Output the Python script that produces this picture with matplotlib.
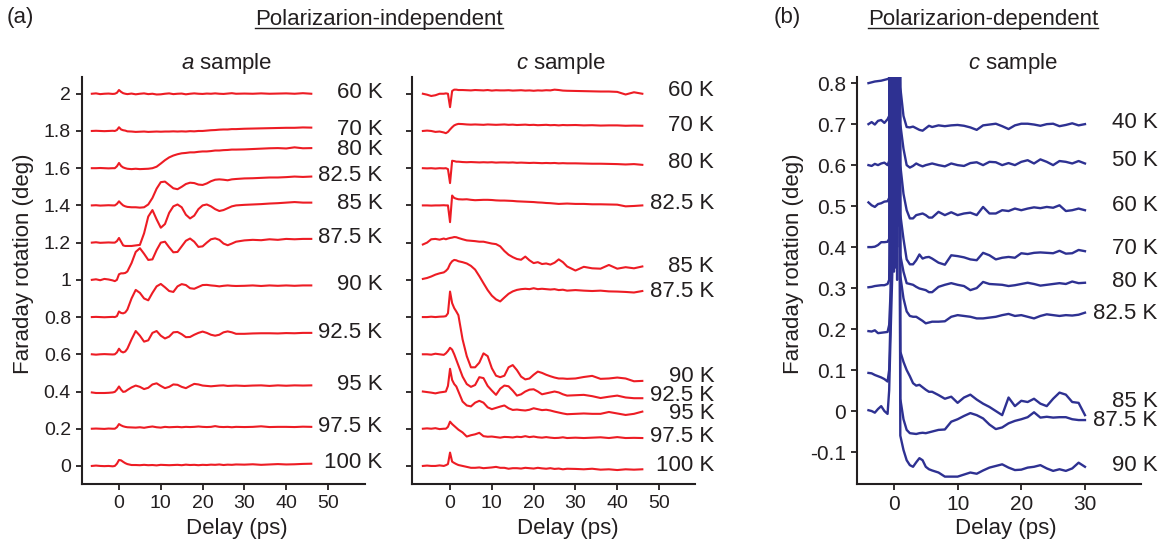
import numpy as np
import matplotlib
matplotlib.use("Agg")
import matplotlib.pyplot as plt
from matplotlib.lines import Line2D
from matplotlib.ticker import FuncFormatter

plt.rcParams['font.family'] = ['Liberation Sans', 'DejaVu Sans']
plt.rcParams['mathtext.fontset'] = 'custom'
plt.rcParams['mathtext.rm'] = 'Liberation Sans'
plt.rcParams['mathtext.it'] = 'Liberation Sans:italic'

# ---- data (a): delay grid in ps, traces as deviation from their baseline (deg)
delay_a = [-6.5, -5.5, -4.5, -3.5, -2.5, -1.5, -1, -0.5,
           0, 0.5, 1, 1.5, 2,
           3, 4, 5, 6, 7, 8, 9, 10, 11, 12,
           13, 14, 15, 16, 17, 18, 19, 20, 21, 22,
           23, 24, 25, 26, 27, 28,
           30, 32, 34, 36, 38, 40, 42, 44, 46]

temps_a = ["60 K", "70 K", "80 K", "82.5 K", "85 K", "87.5 K",
           "90 K", "92.5 K", "95 K", "97.5 K", "100 K"]
offsets_a = [2.0, 1.8, 1.6, 1.4, 1.2, 1.0, 0.8, 0.6, 0.4, 0.2, 0.0]

# a sample
a_60 = [0.000, 0.002, -0.002, 0.000, 0.001, -0.001, 0.000, 0.005,
        0.020, 0.010, 0.003, 0.000, -0.002,
        0.001, -0.003, 0.000, 0.002, -0.002, 0.000, -0.004, -0.003, 0.000, 0.002,
        -0.002, 0.000, 0.001, -0.003, 0.000, 0.002, 0.000, -0.001, 0.001, 0.000,
        0.002, 0.000, -0.001, 0.001, 0.003, 0.000,
        0.001, 0.000, 0.002, 0.000, 0.001, 0.002, 0.000, 0.003, 0.000]
a_70 = [0.000, 0.001, 0.000, -0.001, 0.000, 0.001, 0.000, 0.005,
        0.020, 0.008, 0.004, 0.002, -0.002,
        -0.003, -0.005, -0.004, -0.003, -0.005, -0.004, -0.003, -0.004, -0.003, -0.003,
        -0.002, -0.003, -0.002, -0.003, -0.001, -0.002, 0.000, 0.000, 0.002, 0.004,
        0.005, 0.007, 0.008, 0.008, 0.010, 0.010,
        0.012, 0.013, 0.014, 0.015, 0.016, 0.017, 0.017, 0.019, 0.018]
a_80 = [0.000, 0.000, 0.001, 0.000, -0.001, 0.000, 0.000, 0.010,
        0.028, 0.012, 0.004, 0.000, -0.003,
        -0.005, -0.003, -0.005, -0.004, -0.003, 0.000, 0.008, 0.025, 0.043, 0.058,
        0.068, 0.075, 0.080, 0.082, 0.085, 0.085, 0.088, 0.090, 0.090, 0.092,
        0.095, 0.095, 0.097, 0.098, 0.100, 0.100,
        0.101, 0.103, 0.105, 0.107, 0.108, 0.106, 0.112, 0.107, 0.108]
a_82 = [0.000, 0.001, -0.001, 0.000, 0.001, 0.000, 0.000, 0.008,
        0.022, 0.010, 0.000, -0.005, -0.008,
        -0.010, -0.010, -0.012, -0.010, 0.005, 0.040, 0.090, 0.125, 0.128, 0.110,
        0.092, 0.087, 0.100, 0.115, 0.122, 0.120, 0.112, 0.110, 0.118, 0.130,
        0.138, 0.140, 0.138, 0.135, 0.140, 0.142,
        0.145, 0.146, 0.148, 0.150, 0.150, 0.152, 0.155, 0.153, 0.155]
a_85 = [0.000, 0.002, -0.001, 0.000, 0.001, 0.000, 0.000, 0.008,
        0.025, 0.005, -0.015, -0.018, -0.018,
        -0.018, -0.015, -0.012, 0.050, 0.140, 0.175, 0.125, 0.080, 0.100, 0.160,
        0.195, 0.205, 0.190, 0.150, 0.130, 0.145, 0.180, 0.200, 0.205, 0.195,
        0.180, 0.170, 0.175, 0.185, 0.195, 0.200,
        0.203, 0.205, 0.207, 0.210, 0.212, 0.215, 0.218, 0.215, 0.215]
a_87 = [0.000, 0.003, -0.002, 0.005, 0.002, -0.003, -0.007, 0.000,
        0.030, 0.035, 0.035, 0.037, 0.045,
        0.090, 0.150, 0.170, 0.140, 0.107, 0.110, 0.160, 0.200, 0.205, 0.175,
        0.148, 0.150, 0.180, 0.210, 0.222, 0.205, 0.177, 0.180, 0.200, 0.218,
        0.223, 0.215, 0.195, 0.186, 0.195, 0.205,
        0.212, 0.215, 0.213, 0.218, 0.215, 0.220, 0.218, 0.220, 0.220]
a_90 = [0.000, 0.001, 0.000, -0.001, 0.000, 0.001, 0.000, 0.005,
        0.030, 0.022, 0.020, 0.025, 0.040,
        0.100, 0.146, 0.130, 0.100, 0.090, 0.130, 0.165, 0.178, 0.160, 0.140,
        0.135, 0.165, 0.177, 0.172, 0.155, 0.152, 0.162, 0.172, 0.173, 0.170,
        0.168, 0.165, 0.168, 0.170, 0.168, 0.167,
        0.168, 0.170, 0.167, 0.170, 0.168, 0.170, 0.168, 0.170, 0.170]
a_92 = [0.000, -0.002, 0.000, 0.001, 0.000, -0.001, 0.000, 0.010,
        0.030, 0.015, 0.010, 0.015, 0.030,
        0.080, 0.125, 0.100, 0.068, 0.075, 0.115, 0.125, 0.100, 0.085, 0.095,
        0.118, 0.120, 0.108, 0.092, 0.093, 0.105, 0.115, 0.122, 0.115, 0.105,
        0.100, 0.105, 0.118, 0.123, 0.118, 0.110,
        0.110, 0.112, 0.113, 0.113, 0.112, 0.114, 0.113, 0.115, 0.115]
a_95 = [-0.005, -0.008, -0.008, -0.008, -0.007, -0.005, -0.002, 0.010,
        0.027, 0.010, -0.002, 0.000, 0.008,
        0.022, 0.032, 0.025, 0.013, 0.020, 0.038, 0.044, 0.030, 0.018, 0.025,
        0.038, 0.036, 0.025, 0.018, 0.030, 0.041, 0.038, 0.032, 0.030, 0.028,
        0.030, 0.032, 0.033, 0.030, 0.031, 0.032,
        0.030, 0.032, 0.033, 0.030, 0.033, 0.031, 0.033, 0.032, 0.033]
a_97 = [0.000, 0.001, 0.000, -0.001, 0.001, 0.000, 0.000, 0.008,
        0.025, 0.018, 0.013, 0.010, 0.008,
        0.007, 0.006, 0.008, 0.005, 0.009, 0.012, 0.008, 0.006, 0.010, 0.008,
        0.009, 0.010, 0.008, 0.010, 0.009, 0.010, 0.012, 0.010, 0.009, 0.010,
        0.014, 0.010, 0.009, 0.010, 0.008, 0.010,
        0.009, 0.010, 0.013, 0.009, 0.010, 0.010, 0.009, 0.011, 0.010]
a_100 = [0.000, 0.002, 0.000, -0.001, 0.000, -0.002, 0.000, 0.012,
         0.032, 0.030, 0.022, 0.015, 0.010,
         0.005, 0.005, 0.004, 0.006, 0.004, 0.005, 0.003, 0.006, 0.005, 0.004,
         0.005, 0.006, 0.004, 0.007, 0.005, 0.006, 0.004, 0.006, 0.005, 0.007,
         0.006, 0.008, 0.005, 0.007, 0.006, 0.008,
         0.007, 0.009, 0.006, 0.008, 0.010, 0.008, 0.009, 0.011, 0.012]

# c sample
c_60 = [0.000, -0.005, -0.012, -0.008, 0.000, 0.000, 0.002, 0.000,
        -0.072, 0.015, 0.022, 0.022, 0.020,
        0.020, 0.019, 0.018, 0.020, 0.019, 0.018, 0.020, 0.017, 0.019, 0.018,
        0.018, 0.019, 0.017, 0.018, 0.019, 0.017, 0.018, 0.016, 0.018, 0.017,
        0.019, 0.018, 0.022, 0.020, 0.017, 0.016,
        0.015, 0.014, 0.013, 0.012, 0.012, 0.010, -0.004, 0.008, 0.000]
c_70 = [0.000, 0.002, 0.000, -0.005, -0.003, -0.008, -0.012, -0.005,
        0.008, 0.020, 0.030, 0.035, 0.038,
        0.037, 0.035, 0.034, 0.035, 0.034, 0.033, 0.035, 0.034, 0.033, 0.034,
        0.035, 0.033, 0.034, 0.032, 0.033, 0.034, 0.032, 0.033, 0.031, 0.032,
        0.033, 0.031, 0.032, 0.030, 0.032, 0.031,
        0.032, 0.030, 0.031, 0.029, 0.030, 0.030, 0.028, 0.029, 0.028]
c_80 = [0.000, -0.001, 0.000, -0.002, 0.000, -0.001, 0.000, -0.005,
        -0.080, 0.040, 0.038, 0.035, 0.035,
        0.033, 0.032, 0.033, 0.032, 0.031, 0.032, 0.031, 0.032, 0.030, 0.031,
        0.031, 0.030, 0.031, 0.029, 0.030, 0.029, 0.028, 0.029, 0.028, 0.027,
        0.028, 0.027, 0.028, 0.026, 0.027, 0.026,
        0.026, 0.025, 0.024, 0.024, 0.023, 0.022, 0.020, 0.022, 0.018]
c_82 = [0.000, 0.000, -0.001, 0.000, 0.000, 0.001, 0.000, 0.000,
        -0.090, 0.053, 0.040, 0.036, 0.033,
        0.032, 0.033, 0.030, 0.028, 0.029, 0.030, 0.030, 0.029, 0.027, 0.026,
        0.026, 0.025, 0.024, 0.022, 0.021, 0.020, 0.019, 0.018, 0.016, 0.015,
        0.013, 0.012, 0.010, 0.008, 0.009, 0.010,
        0.008, 0.008, 0.006, 0.006, 0.005, 0.004, -0.005, -0.003, 0.000]
c_85 = [-0.010, 0.000, 0.018, 0.020, 0.016, 0.022, 0.018, 0.022,
        0.025, 0.027, 0.030, 0.029, 0.025,
        0.018, 0.012, 0.010, 0.008, 0.005, 0.005, 0.000, -0.005, -0.008, -0.020,
        -0.045, -0.065, -0.078, -0.088, -0.092, -0.075, -0.095, -0.110, -0.105, -0.115,
        -0.112, -0.118, -0.108, -0.090, -0.105, -0.128,
        -0.150, -0.130, -0.138, -0.140, -0.120, -0.140, -0.132, -0.138, -0.128]
c_87 = [0.005, 0.010, 0.018, 0.028, 0.035, 0.040, 0.048, 0.060,
        0.085, 0.100, 0.107, 0.105, 0.100,
        0.095, 0.088, 0.075, 0.055, 0.020, -0.018, -0.055, -0.085, -0.105, -0.116,
        -0.095, -0.075, -0.062, -0.054, -0.050, -0.048, -0.050, -0.045, -0.050, -0.048,
        -0.050, -0.052, -0.050, -0.055, -0.053, -0.058,
        -0.055, -0.058, -0.060, -0.058, -0.062, -0.063, -0.065, -0.068, -0.060]
c_90 = [0.000, 0.000, 0.002, 0.000, 0.002, 0.003, 0.005, 0.020,
        0.137, 0.075, 0.048, 0.030, 0.010,
        -0.120, -0.210, -0.270, -0.270, -0.245, -0.195, -0.210, -0.275, -0.315, -0.323,
        -0.315, -0.270, -0.258, -0.285, -0.320, -0.335, -0.330, -0.310, -0.293, -0.300,
        -0.310, -0.318, -0.325, -0.330, -0.330, -0.332,
        -0.330, -0.322, -0.316, -0.332, -0.330, -0.325, -0.330, -0.345, -0.343]
c_92 = [0.000, 0.000, -0.002, 0.003, 0.000, -0.003, 0.005, 0.018,
        0.035, 0.025, 0.000, -0.030, -0.060,
        -0.120, -0.160, -0.175, -0.165, -0.123, -0.128, -0.170, -0.195, -0.218, -0.185,
        -0.168, -0.172, -0.195, -0.222, -0.215, -0.200, -0.190, -0.188, -0.200, -0.215,
        -0.210, -0.205, -0.200, -0.205, -0.215, -0.222,
        -0.220, -0.218, -0.225, -0.235, -0.228, -0.222, -0.232, -0.236, -0.236]
c_95 = [0.000, -0.003, -0.006, -0.010, -0.005, -0.002, 0.000, 0.030,
        0.122, 0.062, 0.040, 0.027, 0.000,
        -0.054, -0.075, -0.080, -0.060, -0.050, -0.060, -0.085, -0.095, -0.088, -0.081,
        -0.075, -0.090, -0.099, -0.097, -0.100, -0.102, -0.098, -0.090, -0.095, -0.100,
        -0.098, -0.102, -0.108, -0.113, -0.118, -0.122,
        -0.120, -0.118, -0.120, -0.120, -0.110, -0.118, -0.126, -0.120, -0.108]
c_97 = [0.000, 0.002, 0.000, 0.003, -0.002, 0.000, 0.000, 0.010,
        0.038, 0.025, 0.015, 0.005, -0.005,
        -0.020, -0.042, -0.035, -0.030, -0.022, -0.040, -0.043, -0.042, -0.045, -0.048,
        -0.044, -0.045, -0.047, -0.043, -0.045, -0.040, -0.045, -0.042, -0.046, -0.048,
        -0.045, -0.048, -0.050, -0.049, -0.046, -0.050,
        -0.048, -0.050, -0.048, -0.046, -0.050, -0.045, -0.050, -0.049, -0.050]
c_100 = [0.000, 0.002, 0.000, 0.000, 0.003, 0.000, 0.004, 0.010,
         0.072, 0.023, 0.016, 0.010, 0.005,
         0.000, -0.005, -0.010, -0.010, -0.008, -0.012, -0.010, -0.008, -0.005, -0.010,
         -0.010, -0.015, -0.012, -0.012, -0.014, -0.010, -0.012, -0.014, -0.010, -0.013,
         -0.015, -0.012, -0.016, -0.014, -0.018, -0.015,
         -0.016, -0.018, -0.015, -0.020, -0.018, -0.022, -0.018, -0.020, -0.018]

a_traces = [a_60, a_70, a_80, a_82, a_85, a_87, a_90, a_92, a_95, a_97, a_100]
c_traces = [c_60, c_70, c_80, c_82, c_85, c_87, c_90, c_92, c_95, c_97, c_100]

# ---- data (b): absolute Faraday rotation (deg); the zero-delay burst runs off scale
delay_b = [-4, -3.5, -3, -2.5, -2, -1.5, -1,
           -0.75, -0.5, -0.25, 0, 0.25, 0.5, 0.75,
           1, 1.5, 2, 2.5, 3, 3.5, 4, 4.5, 5, 5.5, 6,
           7, 8, 9, 10, 11, 12, 13, 14, 15, 16,
           17, 18, 19, 20, 21, 22, 23, 24, 25, 26, 27, 28, 29, 30]
temps_b = ["40 K", "50 K", "60 K", "70 K", "80 K", "82.5 K", "85 K", "87.5 K", "90 K"]

b_40 = [0.800, 0.802, 0.804, 0.805, 0.806, 0.808, 0.810,
        0.812, 1.500, 0.500, 1.500, 0.550, 1.500, 1.500,
        0.790, 0.720, 0.693, 0.692, 0.694, 0.690, 0.686, 0.684, 0.690, 0.696, 0.693,
        0.697, 0.695, 0.697, 0.698, 0.696, 0.692, 0.686, 0.697, 0.699, 0.701,
        0.695, 0.688, 0.697, 0.701, 0.701, 0.699, 0.696, 0.700, 0.701, 0.695, 0.698, 0.702, 0.697, 0.700]
b_50 = [0.700, 0.705, 0.699, 0.708, 0.710, 0.703, 0.712,
        0.720, 1.500, 1.500, 0.420, 1.500, 0.480, 1.500,
        0.700, 0.640, 0.600, 0.594, 0.598, 0.604, 0.600, 0.597, 0.600, 0.602, 0.604,
        0.600, 0.597, 0.604, 0.600, 0.598, 0.605, 0.607, 0.600, 0.608, 0.607,
        0.600, 0.605, 0.600, 0.608, 0.612, 0.604, 0.614, 0.608, 0.600, 0.610, 0.608, 0.604, 0.610, 0.604]
b_60 = [0.600, 0.598, 0.603, 0.600, 0.604, 0.606, 0.600,
        0.610, 1.500, 0.380, 1.500, 0.450, 1.500, 1.500,
        0.600, 0.530, 0.490, 0.470, 0.470, 0.478, 0.480, 0.482, 0.478, 0.472, 0.472,
        0.486, 0.478, 0.485, 0.478, 0.482, 0.484, 0.478, 0.498, 0.482, 0.482,
        0.490, 0.488, 0.494, 0.490, 0.494, 0.497, 0.495, 0.498, 0.496, 0.502, 0.488, 0.490, 0.494, 0.490]
b_70 = [0.509, 0.502, 0.498, 0.505, 0.507, 0.511, 0.512,
        0.520, 1.500, 1.500, 0.350, 1.500, 0.400, 1.500,
        0.480, 0.420, 0.370, 0.358, 0.358, 0.368, 0.382, 0.372, 0.375, 0.376, 0.372,
        0.362, 0.357, 0.380, 0.378, 0.375, 0.370, 0.368, 0.386, 0.380, 0.370,
        0.374, 0.376, 0.374, 0.385, 0.383, 0.386, 0.387, 0.386, 0.385, 0.391, 0.384, 0.385, 0.393, 0.390]
b_80 = [0.400, 0.400, 0.401, 0.405, 0.412, 0.412, 0.413,
        0.420, 1.500, 0.400, 1.500, 0.360, 1.500, 1.500,
        0.380, 0.340, 0.312, 0.310, 0.308, 0.303, 0.299, 0.297, 0.295, 0.290, 0.290,
        0.303, 0.308, 0.312, 0.308, 0.305, 0.295, 0.300, 0.315, 0.310, 0.309,
        0.308, 0.305, 0.307, 0.310, 0.313, 0.310, 0.306, 0.308, 0.310, 0.312, 0.310, 0.316, 0.312, 0.313]
b_82 = [0.302, 0.303, 0.305, 0.306, 0.307, 0.307, 0.310,
        0.320, 0.900, 1.500, 0.340, 1.500, 0.320, 1.500,
        0.330, 0.275, 0.243, 0.232, 0.230, 0.230, 0.225, 0.220, 0.214, 0.216, 0.218,
        0.218, 0.219, 0.230, 0.234, 0.232, 0.230, 0.226, 0.226, 0.228, 0.230,
        0.234, 0.237, 0.232, 0.234, 0.230, 0.226, 0.232, 0.236, 0.234, 0.232, 0.234, 0.233, 0.235, 0.240]
b_85 = [0.195, 0.194, 0.197, 0.190, 0.191, 0.192, 0.193,
        0.210, 0.300, 1.500, 1.500, 0.350, 1.500, 1.500,
        0.145, 0.120, 0.100, 0.085, 0.068, 0.062, 0.064, 0.058, 0.052, 0.047, 0.047,
        0.039, 0.030, 0.035, 0.020, 0.033, 0.040, 0.028, 0.018, 0.010, 0.000,
        -0.010, 0.033, 0.012, 0.025, 0.022, 0.030, 0.018, 0.012, 0.030, 0.045, 0.040, 0.022, 0.020, -0.010]
b_87 = [0.093, 0.092, 0.088, 0.085, 0.082, 0.078, 0.072,
        0.100, 0.250, 1.500, 0.400, 1.500, 1.500, 1.500,
        0.030, -0.020, -0.046, -0.054, -0.055, -0.056, -0.054, -0.053, -0.054, -0.052, -0.050,
        -0.046, -0.045, -0.026, -0.020, -0.012, -0.005, -0.010, -0.018, -0.033, -0.044,
        -0.040, -0.030, -0.024, -0.020, -0.015, -0.003, -0.016, -0.014, -0.016, -0.015, -0.015, -0.020, -0.022, -0.022]
b_90 = [0.002, 0.000, -0.004, 0.005, 0.012, 0.000, -0.007,
        0.050, 0.200, 0.340, 1.500, 1.500, 0.450, 1.500,
        -0.060, -0.095, -0.120, -0.132, -0.136, -0.125, -0.115, -0.120, -0.136, -0.142, -0.145,
        -0.150, -0.160, -0.160, -0.160, -0.155, -0.150, -0.153, -0.145, -0.138, -0.134,
        -0.130, -0.138, -0.144, -0.143, -0.138, -0.136, -0.132, -0.140, -0.146, -0.142, -0.146, -0.140, -0.126, -0.136]

b_traces = [b_40, b_50, b_60, b_70, b_80, b_82, b_85, b_87, b_90]

# where the temperature labels sit (deg)
label_y_a = [2.005, 1.81, 1.70, 1.56, 1.41, 1.225, 0.973, 0.715, 0.435, 0.21, 0.016]
label_y_c = [2.02, 1.83, 1.63, 1.41, 1.07, 0.94, 0.48, 0.376, 0.28, 0.16, 0.0]
label_y_b = [0.705, 0.612, 0.502, 0.397, 0.315, 0.239, 0.024, -0.024, -0.132]

RED = '#ed1c24'
BLUE = '#2e3192'
INK = '#231f20'
W, H = 1165, 543


def fx(px):
    return px / W


def fy(py):
    return 1 - py / H


def style_axis(ax, tick_size):
    for side in ['top', 'right']:
        ax.spines[side].set_visible(False)
    for side in ['left', 'bottom']:
        ax.spines[side].set_linewidth(1.5)
        ax.spines[side].set_color(INK)
    ax.tick_params(direction='out', length=4, width=1.3, pad=4,
                   labelsize=tick_size, colors=INK)
    ax.yaxis.set_major_formatter(FuncFormatter(lambda v, p: '%g' % round(v, 3)))


fig = plt.figure(figsize=(11.65, 5.43), dpi=100)

ax_a = fig.add_axes([fx(82), fy(484), fx(365) - fx(82), fy(77) - fy(484)])
ax_c = fig.add_axes([fx(412), fy(484), fx(695) - fx(412), fy(77) - fy(484)])
ax_b = fig.add_axes([fx(857), fy(484), fx(1141) - fx(857), fy(77) - fy(484)])

t_a = np.array(delay_a)
for dev, off, lab, ly in zip(a_traces, offsets_a, temps_a, label_y_a):
    ax_a.plot(t_a, off + np.array(dev), color=RED, lw=1.5, solid_joinstyle='round')
    ax_a.text(63, ly, lab, ha='right', va='center', fontsize=16, color=INK)
for dev, off, lab, ly in zip(c_traces, offsets_a, temps_a, label_y_c):
    ax_c.plot(t_a, off + np.array(dev), color=RED, lw=1.5, solid_joinstyle='round')
    ax_c.text(63.2, ly, lab, ha='right', va='center', fontsize=16, color=INK)

t_b = np.array(delay_b)
for vals, lab, ly in zip(b_traces, temps_b, label_y_b):
    ax_b.plot(t_b, vals, color=BLUE, lw=1.7, solid_joinstyle='round')
    ax_b.text(41.4, ly, lab, ha='right', va='center', fontsize=16, color=INK)

for ax in (ax_a, ax_c):
    style_axis(ax, 14)
    ax.set_yticks(offsets_a)
    ax.set_xticks([0, 10, 20, 30, 40, 50])
    ax.set_ylim(-0.097, 2.09)
ax_a.set_xlim(-8.85, 58.85)
ax_c.set_xlim(-9.1, 58.6)
ax_c.set_yticklabels([])

style_axis(ax_b, 15)
ax_b.set_xlim(-5.8, 38.8)
ax_b.set_ylim(-0.178, 0.815)
ax_b.set_xticks([0, 10, 20, 30])
ax_b.set_yticks([-0.1, 0, 0.1, 0.2, 0.3, 0.4, 0.5, 0.6, 0.7, 0.8])

# panel text
fig.text(fx(20), fy(17), '(a)', ha='center', va='center', fontsize=16, color=INK)
fig.text(fx(787), fy(17), '(b)', ha='center', va='center', fontsize=16, color=INK)
heads = [fig.text(fx(379), fy(25), 'Polarizarion-independent', ha='center', va='baseline',
                  fontsize=16, color=INK),
         fig.text(fx(983), fy(25), 'Polarizarion-dependent', ha='center', va='baseline',
                  fontsize=16, color=INK)]
fig.text(fx(227), fy(69), '$a$ sample', ha='center', va='baseline', fontsize=16, color=INK)
fig.text(fx(561), fy(69), '$c$ sample', ha='center', va='baseline', fontsize=16, color=INK)
fig.text(fx(1013), fy(69), '$c$ sample', ha='center', va='baseline', fontsize=16, color=INK)

for x in (237, 568, 1006):
    fig.text(fx(x), fy(534), 'Delay (ps)', ha='center', va='baseline', fontsize=16, color=INK)
for x in (24, 794):
    fig.text(fx(x), fy(264), 'Faraday rotation (deg)', ha='center', va='center',
             rotation=90, fontsize=16, color=INK)

# underline the two headers
fig.canvas.draw()
inv = fig.transFigure.inverted()
for t in heads:
    bb = t.get_window_extent()
    (x0, _), (x1, _) = inv.transform([(bb.x0, 0), (bb.x1, 0)])
    fig.add_artist(Line2D([x0, x1], [fy(27.5), fy(27.5)], transform=fig.transFigure,
                          color=INK, lw=1.0))

fig.savefig('out.png', dpi=100)
